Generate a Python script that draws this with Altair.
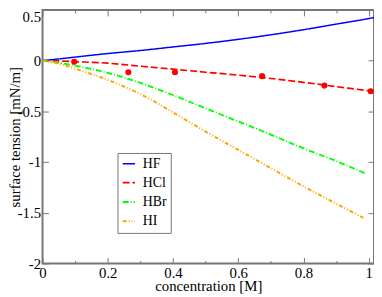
import altair as alt
import pandas as pd

# ---------------- data ----------------
series_names = ["HF", "HCl", "HBr", "HI"]
series_colors = ["#0000ff", "#ff0000", "#00ff00", "#ffa500"]
series_dashes = [[1, 0], [7, 3], [6, 2, 1, 2], [4, 2, 1, 2, 1, 2]]
series_widths = [1.5, 2.0, 1.5, 1.5]

hf_x = [0, 0.05, 0.1, 0.2, 0.3, 0.4, 0.5, 0.6, 0.7, 0.8, 0.9, 1.0, 1.016]
hf_y = [0, 0.017, 0.035, 0.07, 0.1, 0.135, 0.17, 0.21, 0.255, 0.305, 0.36, 0.415, 0.425]

hcl_x = [0, 0.05, 0.1, 0.2, 0.3, 0.4, 0.5, 0.6, 0.7, 0.8, 0.9, 1.0, 1.016]
hcl_y = [0, -0.003, -0.01, -0.025, -0.055, -0.084, -0.114, -0.143, -0.176, -0.214, -0.256, -0.297, -0.304]

hbr_x = [0, 0.05, 0.1, 0.2, 0.3, 0.4, 0.5, 0.6, 0.7, 0.8, 0.9, 0.988]
hbr_y = [0, -0.02, -0.05, -0.12, -0.22, -0.34, -0.47, -0.60, -0.73, -0.865, -0.99, -1.11]

hi_x = [0, 0.05, 0.1, 0.2, 0.3, 0.4, 0.5, 0.6, 0.7, 0.8, 0.9, 0.983]
hi_y = [0, -0.03, -0.08, -0.19, -0.33, -0.51, -0.70, -0.88, -1.06, -1.24, -1.41, -1.55]

hcl_points_x = [0.097, 0.263, 0.406, 0.673, 0.864, 1.006]
hcl_points_y = [-0.012, -0.115, -0.115, -0.153, -0.246, -0.301]

x_major = [0, 0.2, 0.4, 0.6, 0.8, 1.0]
x_minor = [0.1, 0.3, 0.5, 0.7, 0.9]
y_major = [0.5, 0, -0.5, -1, -1.5, -2]

# ---------------- tables ----------------
rows = []
for name, xs, ys in zip(series_names, [hf_x, hcl_x, hbr_x, hi_x], [hf_y, hcl_y, hbr_y, hi_y]):
    for x, y in zip(xs, ys):
        rows.append({"conc": x, "tension": y, "series": name})
lines_df = pd.DataFrame(rows)
points_df = pd.DataFrame({"conc": hcl_points_x, "tension": hcl_points_y})

FONT = "Liberation Serif"
GRAY = "#777777"

x_scale = alt.Scale(domain=[0, 1.016], nice=False, zero=False)
y_scale = alt.Scale(domain=[-2, 0.5], nice=False, zero=False)

common = dict(grid=False, domain=False, tickColor=GRAY, tickWidth=1,
              labelFont=FONT, titleFont=FONT, labelColor="black", titleColor="black",
              labelFlush=False, labelOverlap=False, labelBound=False)

x_bottom = alt.Axis(orient="bottom", values=x_major, tickSize=6, offset=-6,
                    labelExpr="'' + datum.value", labelFontSize=15, labelPadding=2,
                    title="concentration [M]", titleFontSize=15, titleFontWeight="normal",
                    titleBaseline="alphabetic", titleY=33.5, **common)
y_left = alt.Axis(orient="left", values=y_major, tickSize=6, offset=-6,
                  labelExpr="'' + datum.value", labelFontSize=15, labelPadding=2,
                  labelBaseline={"condition": {"test": "datum.value == 0.5", "value": "top"},
                                 "value": "middle"},
                  title="surface tension [mN/m]", titleFontSize=15, titleFontWeight="normal",
                  titleAngle=270, titleBaseline="alphabetic", titleX=-29.5, **common)
x_top = alt.Axis(orient="top", values=x_major, tickSize=6, offset=-6, labels=False,
                 title=None, **common)
y_right = alt.Axis(orient="right", values=y_major, tickSize=6, offset=-6, labels=False,
                   title=None, **common)
x_bottom_minor = alt.Axis(orient="bottom", values=x_minor, tickSize=3, offset=-3,
                          labels=False, title=None, **common)
x_top_minor = alt.Axis(orient="top", values=x_minor, tickSize=3, offset=-3,
                       labels=False, title=None, **common)

lines = alt.Chart(lines_df).mark_line(interpolate="monotone").encode(
    x=alt.X("conc:Q", scale=x_scale, axis=x_bottom),
    y=alt.Y("tension:Q", scale=y_scale, axis=y_left),
    color=alt.Color("series:N", scale=alt.Scale(domain=series_names, range=series_colors),
                    legend=alt.Legend(title=None)),
    strokeDash=alt.StrokeDash("series:N", scale=alt.Scale(domain=series_names, range=series_dashes),
                              legend=alt.Legend(title=None)),
    strokeWidth=alt.StrokeWidth("series:N", scale=alt.Scale(domain=series_names, range=series_widths),
                                legend=None),
)

points = alt.Chart(points_df).mark_circle(color="#ff0000", size=38, opacity=1).encode(
    x=alt.X("conc:Q", scale=x_scale, axis=x_top),
    y=alt.Y("tension:Q", scale=y_scale, axis=y_right),
)

minor_b = alt.Chart(points_df).mark_point(opacity=0).encode(
    x=alt.X("conc:Q", scale=x_scale, axis=x_bottom_minor),
    y=alt.Y("tension:Q", scale=y_scale, axis=None),
)
minor_t = alt.Chart(points_df).mark_point(opacity=0).encode(
    x=alt.X("conc:Q", scale=x_scale, axis=x_top_minor),
    y=alt.Y("tension:Q", scale=y_scale, axis=None),
)

chart = alt.layer(lines, points, minor_b, minor_t).resolve_axis(
    x="independent", y="independent"
).properties(
    width=336, height=257,
    autosize=alt.AutoSizeParams(type="none"),
    padding={"left": 35, "top": 0, "right": 0, "bottom": 30},
).configure_view(
    stroke=GRAY, strokeWidth=2
).configure_legend(
    orient="none", legendX=76, legendY=145, direction="vertical",
    padding=4, rowPadding=4.6, labelOffset=6.6, labelFont=FONT, labelFontSize=14,
    labelColor="black", symbolType="stroke", symbolSize=154, symbolStrokeWidth=1.5,
    strokeColor=GRAY, fillColor="white", cornerRadius=0, labelLimit=200,
)

chart.save("out.html", embed_options={"renderer": "svg", "actions": False})
